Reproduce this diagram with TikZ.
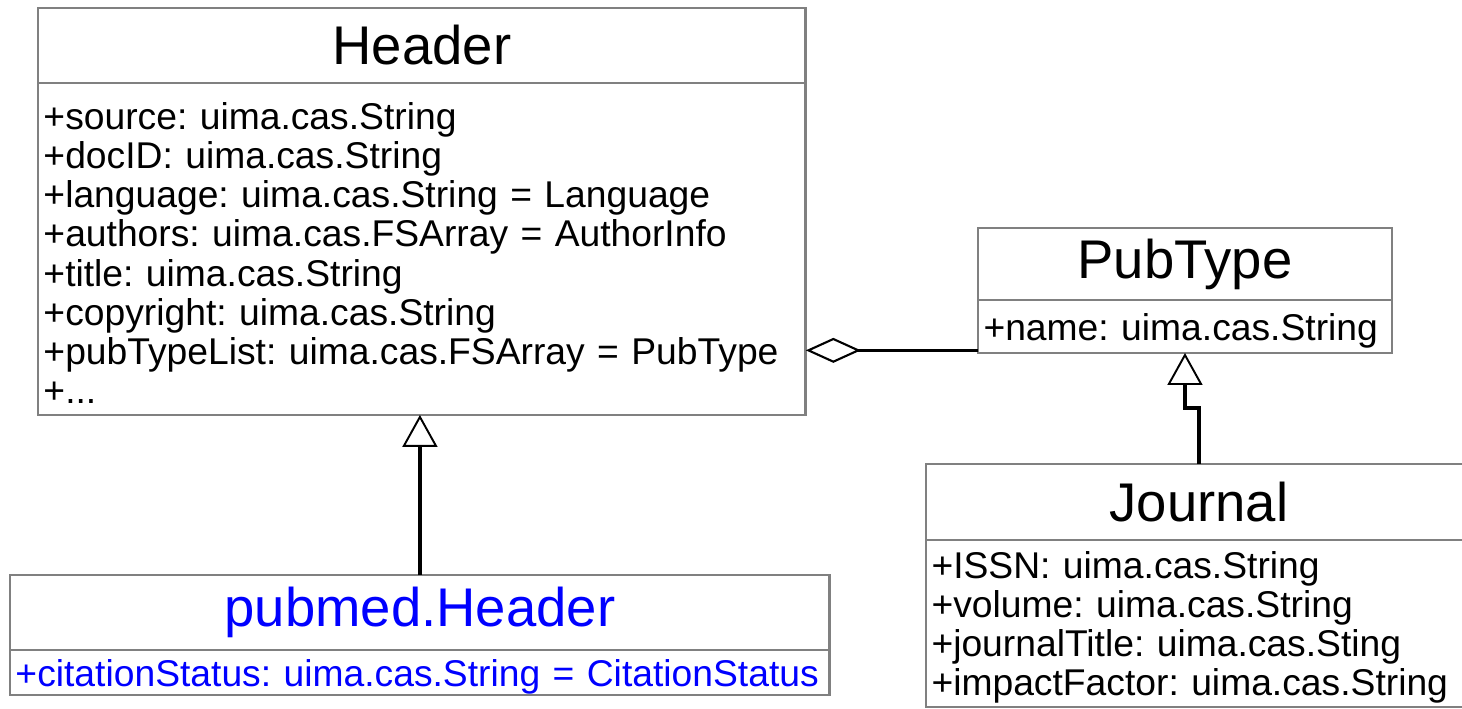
\documentclass[tikz,border=0pt]{standalone}
\usepackage{fontspec}
\setmainfont{Liberation Sans}
\usepackage{tikz}
\usetikzlibrary{arrows.meta, positioning}
\definecolor{boxgray}{RGB}{128,128,128}
\definecolor{umlblue}{RGB}{0,0,255}
\newcommand{\clstitlefont}{\fontsize{31}{34}\selectfont}
\newcommand{\clsattrfont}{\fontsize{21.2}{22.3}\selectfont\frenchspacing\hyphenpenalty=10000}
\newcommand{\toprule}{\rule{0pt}{20pt}}
\tikzstyle{clstitle}=[draw=boxgray,line width=1.6pt,outer sep=0pt,inner sep=0pt,font=\clstitlefont]
\tikzstyle{clsattr}=[draw=boxgray,line width=1.6pt,outer sep=0pt,inner xsep=0.11cm,inner ysep=0pt,align=left,font=\clsattrfont]
\tikzstyle{gen}=[line width=1.9pt,-{Triangle[open,fill=white,line width=1.1pt,length=0.64cm,width=0.7cm]}]
\tikzstyle{agg}=[line width=1.9pt,-{Diamond[open,fill=white,line width=1.2pt,length=1.1cm,width=0.5cm]}]

\begin{document}
\begin{tikzpicture}[x=0.02cm,y=-0.02cm]
    \useasboundingbox (0,0) rectangle (1462,708);
    \clip (0,0) rectangle (1462,708);

    % Header
    \node[clstitle, minimum width=15.36cm, minimum height=1.5cm, anchor=north west] (hdr) at (38,8) {Header};
    \node[clsattr, text width=15.14cm, minimum height=6.64cm, below=0pt of hdr] (hdrattr) {\toprule+source: uima.cas.String\\
        +docID: uima.cas.String\\
        +language: uima.cas.String = Language\\
        +authors: uima.cas.FSArray = AuthorInfo\\
        +title: uima.cas.String\\
        +copyright: uima.cas.String\\
        +pubTypeList: uima.cas.FSArray = PubType\\
        +...};

    % PubType
    \node[clstitle, minimum width=8.28cm, minimum height=1.44cm, anchor=north west] (pt) at (978,228) {PubType};
    \node[clsattr, text width=8.06cm, minimum height=1.06cm, below=0pt of pt] (ptattr) {\toprule+name: uima.cas.String};

    % Journal
    \node[clstitle, minimum width=10.92cm, minimum height=1.52cm, anchor=north west] (jr) at (926,464) {Journal};
    \node[clsattr, text width=10.70cm, minimum height=3.34cm, below=0pt of jr] (jrattr) {\toprule+ISSN: uima.cas.String\\
        +volume: uima.cas.String\\
        +journalTitle: uima.cas.Sting\\
        +impactFactor: uima.cas.String};

    % pubmed.Header
    \node[clstitle, text=umlblue, minimum width=16.4cm, minimum height=1.5cm, anchor=north west] (pm) at (10,575) {pubmed.Header};
    \node[clsattr, text=umlblue, text width=16.18cm, minimum height=0.9cm, below=0pt of pm] (pmattr) {\toprule+citationStatus: uima.cas.String = CitationStatus};

    \draw[gen] (pm.north) -- (pm.north |- hdrattr.south);
    \draw[gen] (jr.north) -- ++(0,-56) -| (ptattr.south);
    \draw[agg] ([yshift=1.5pt]ptattr.south west) -- ([yshift=1.5pt]ptattr.south west -| hdrattr.east);
\end{tikzpicture}
\end{document}
